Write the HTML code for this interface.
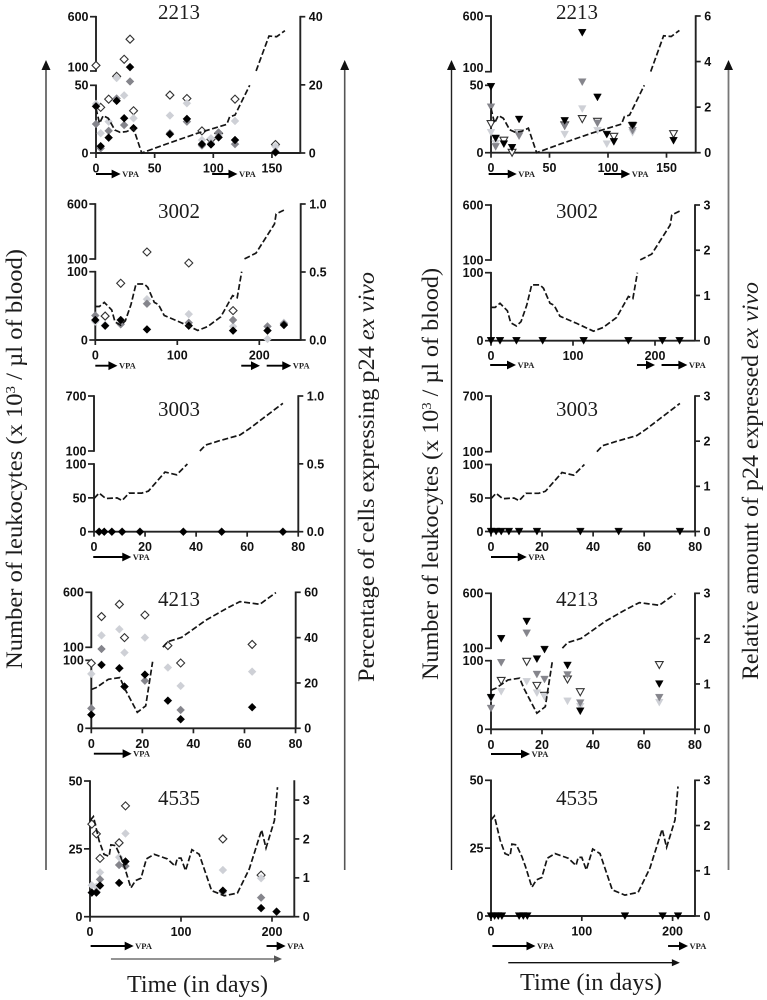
<!DOCTYPE html>
<html lang="en">
<head>
<meta charset="utf-8">
<title>Leukocytes and p24 expression over time</title>
<style>
html,body{margin:0;padding:0;background:#fff;width:767px;height:1000px;overflow:hidden}
svg{display:block;filter:blur(.3px)}
.serif{font-family:"Liberation Serif",serif;fill:#1c1c1c}
</style>
</head>
<body>
<svg id="figure" xmlns="http://www.w3.org/2000/svg" width="767" height="1000" viewBox="0 0 767 1000">
  <rect x="0" y="0" width="767" height="1000" fill="#fff"/>

  <g>
    <line x1="46" y1="70" x2="46" y2="870" stroke="#666" stroke-width="1.8"/><polygon points="46,60 41.5,70 50.5,70" fill="#111"/>
  </g>
  <g>
    <line x1="344.7" y1="70" x2="344.7" y2="870" stroke="#555" stroke-width="1.6"/><polygon points="344.7,60 340.2,70 349.2,70" fill="#111"/>
  </g>
  <g>
    <line x1="451.5" y1="70" x2="451.5" y2="870" stroke="#222" stroke-width="1.4"/><polygon points="451.5,60 447,70 456,70" fill="#111"/>
  </g>
  <g>
    <line x1="728.5" y1="70" x2="728.5" y2="870" stroke="#777" stroke-width="1.8"/><polygon points="728.5,60 724,70 733,70" fill="#111"/>
  </g>

  <text class="serif" font-size="23" transform="translate(22,669) rotate(-90)" textLength="420" lengthAdjust="spacingAndGlyphs">Number of leukocytes (x 10<tspan font-size="14" dy="-7">3</tspan><tspan dy="7"> /  µl of blood)</tspan></text>
  <text class="serif" font-size="23" transform="translate(374,682) rotate(-90)" textLength="410" lengthAdjust="spacingAndGlyphs">Percentage of cells expressing p24 <tspan font-style="italic">ex vivo</tspan></text>
  <text class="serif" font-size="23" transform="translate(438,680) rotate(-90)" textLength="412" lengthAdjust="spacingAndGlyphs">Number of leukocytes (x 10<tspan font-size="14" dy="-7">3</tspan><tspan dy="7"> / µl of blood)</tspan></text>
  <text class="serif" font-size="23" transform="translate(758,680) rotate(-90)" textLength="398" lengthAdjust="spacingAndGlyphs">Relative amount of p24 expressed <tspan font-style="italic">ex vivo</tspan></text>

  <text class="serif" font-size="24" x="127" y="992" textLength="141" lengthAdjust="spacingAndGlyphs">Time (in days)</text>
  <text class="serif" font-size="24" x="520" y="990" textLength="142" lengthAdjust="spacingAndGlyphs">Time (in days)</text>

  <text class="serif" font-size="21" text-anchor="middle" x="179" y="19">2213</text>
  <text class="serif" font-size="21" text-anchor="middle" x="577" y="19">2213</text>
  <text class="serif" font-size="21" text-anchor="middle" x="179" y="218">3002</text>
  <text class="serif" font-size="21" text-anchor="middle" x="577" y="218">3002</text>
  <text class="serif" font-size="21" text-anchor="middle" x="179" y="416">3003</text>
  <text class="serif" font-size="21" text-anchor="middle" x="577" y="416">3003</text>
  <text class="serif" font-size="21" text-anchor="middle" x="179" y="606">4213</text>
  <text class="serif" font-size="21" text-anchor="middle" x="577" y="606">4213</text>
  <text class="serif" font-size="21" text-anchor="middle" x="179" y="805">4535</text>
  <text class="serif" font-size="21" text-anchor="middle" x="577" y="805">4535</text>
</svg>

<script>
// ---------- Leukocyte counts (dashed line, left axis), shared by both columns ----------
const days2213 = [0,3,6.2,10.5,16,20.5,26,32,39,60,86,111.5,114,118.5,131,136.5,147.5,154,161];
const leuko2213 = [33,21.9,27.6,25.6,17,15.3,15.8,18.2,0,6.65,14.5,21.2,26.8,28,50,101,422,416,471];
const days3002 = [0,5,11,20,24,31,36.6,43.5,49.6,59.8,64,72,77,84,104.5,125,137,153,167.5,173,178.5,182,196,218.5,220.5,231];
const leuko3002 = [49,49,55,44,26.5,21.6,28,52,82,82,77,55,52,36,25.5,14,19.6,34,65,62,100,100.5,154,418,509,548];
const days3003 = [0,2,4.6,9,11,13.7,18.7,21.3,27.8,32.4,36.6,41.5,43.7,49.3,57.2,61,74];
const leuko3003 = [49,57,49,50,46,57,57,60,88,84,100,100.5,165,213,275,347,620];
const days4213 = [0,2,6.7,11.2,13,18,21.3,24,28,30,35.4,45,53,58.2,66,72.3];
const leuko4213 = [57,60,72,74.5,59,23.5,33,98,101,151,191,348,454,515,491,597];
const days4535 = [0,3.7,10,15.4,21,23,28,34,38,45,50,56,62,70.5,85,93.6,96,100,105,112,120,133.6,147.5,162,175,188.6,193.4,202.6,206];
const leuko4535 = [35.4,36.9,28,23,22.2,26.5,26.2,21.9,18.2,10.6,13.3,14.2,21.3,23,21.3,18.6,21.6,21.6,17,24.7,23,9.6,7.7,8.7,17.6,32,25.3,35.4,47.7];

// ---------- Percentage of p24-expressing cells, [day, value] (left column diamonds) ----------
const pct2213Open = [[0,25.7],[4,13.4],[10.8,15.8],[17.6,22.5],[24,27.5],[29,33.4],[32,12.4],[63,17],[77.5,16],[90.3,6.5],[98,4],[104.5,5.8],[118.5,15.8],[153,2.5]];
const pct2213Light = [[0,14.4],[4,5.8],[10.8,9.2],[17.6,22],[24,16.9],[32,10.2],[63,11],[77.5,14.6],[90.3,3.8],[98,4.3],[104.5,5.3],[118.5,9.4],[153,1.9]];
const pct2213Gray = [[0,8.5],[4,1.4],[10.8,6.5],[17.6,16],[24,8.2],[29,21],[63,5.8],[77.5,9.2],[90.3,2.2],[98,2.8],[104.5,6],[118.5,2.6],[153,0.4]];
const pct2213Black = [[0,13.7],[4,2],[10.8,4.5],[17.6,15.3],[24,10.2],[29,25.2],[32,7.3],[63,5.5],[77.5,10],[90.3,2.6],[98,2.5],[104.5,4.6],[118.5,3.8],[153,0.2]];

const pct3002Open = [[12,0.176],[31,0.417],[63,0.647],[114,0.566],[168,0.216]];
const pct3002Light = [[0,0.135],[12,0.11],[31,0.12],[63,0.3],[114,0.19],[168,0.1],[210,0.007],[230,0.127]];
const pct3002Gray = [[0,0.18],[31,0.115],[63,0.267],[114,0.127],[168,0.147],[210,0.1],[230,0.12]];
const pct3002Black = [[0,0.147],[12,0.105],[31,0.147],[63,0.078],[114,0.105],[168,0.069],[210,0.069],[230,0.11]];

const pct3003Black = [[2,0],[4,0],[7,0],[11,0],[18,0],[35,0],[50,0],[74,0]];

const pct4213Open = [[0,28.7],[4,49.3],[11,54.7],[13,40],[21,50],[30,36.5],[35,28.8],[63,37]];
const pct4213Light = [[0,24],[4,41],[11,43.7],[13,33.4],[21,40],[30,26.8],[35,18.7],[63,25]];
const pct4213Gray = [[0,8.8],[4,35],[11,26.5],[13,18.4],[21,21],[35,8.1]];
const pct4213Black = [[0,6],[4,28],[11,26.5],[13,18.4],[21,23.7],[30,12.2],[35,4],[63,9.3]];

const pct4535Open = [[2,2.38],[7,2.13],[11,1.5],[32,1.9],[39,2.85],[146,2],[188,1.07]];
const pct4535Light = [[2,0.81],[7,0.77],[11,1.14],[32,1.53],[39,2.14],[146,1.2],[188,0.99]];
const pct4535Gray = [[2,0.62],[7,0.64],[11,0.96],[32,1.33],[39,1.3],[146,0.64],[188,0.49]];
const pct4535Black = [[2,0.62],[7,0.62],[11,0.8],[32,0.87],[39,1.42],[146,0.67],[188,0.22],[205,0.13]];

// ---------- Relative amount of p24, [day, value] (right column triangles) ----------
const amt2213Open = [[0,1.26],[11,0.53],[18,0],[24,0.85],[63,1.2],[78,1.48],[91,1.36],[105,0.7],[121,1.17],[156,0.82]];
const amt2213Light = [[0,0.88],[4,0.4],[24,0.85],[63,0.8],[78,1.92],[91,0.97],[99,0.38],[121,0.88]];
const amt2213Gray = [[0,2],[4,0.26],[24,0.73],[63,1.17],[78,3.1],[91,1.29],[121,0.97]];
const amt2213Black = [[0,2.9],[4,0.63],[11,0.38],[18,0.22],[24,1.46],[63,1.4],[78,5.27],[91,2.43],[99,0.8],[105,0.48],[121,1.2],[156,0.53]];

const amt3002Black = [[0,0],[11,0],[31,0],[63,0],[113,0],[167.5,0],[209,0],[230,0]];
const amt3003Black = [[0,0],[2,0],[4,0],[7,0],[11,0],[18,0],[35,0],[50,0],[74,0]];

const amt4213Open = [[4,1.07],[14,1.49],[18,0.96],[21,0.74],[30,1.1],[35,0.82],[66,1.42]];
const amt4213Light = [[0,0.68],[4,0.83],[14,1.05],[18,0.8],[21,0.72],[30,0.62],[35,0.5],[66,0.59]];
const amt4213Gray = [[0,0.46],[4,1.47],[14,2.12],[18,1.21],[21,1.1],[30,1.2],[35,0.58],[66,0.7]];
const amt4213Black = [[0,0.7],[4,2],[14,2.38],[18,1.55],[21,1.76],[30,1.41],[35,0.4],[66,1]];

const amt4535Black = [[0,0],[4,0],[8,0],[12,0],[31,0],[35.6,0],[40,0],[147.5,0],[189,0],[206,0]];

// ---------- Tick labels ----------
const xTicks50 = [0,50,100,150];
const xTicks100 = [0,100,200];
const xTicks20 = [0,20,40,60,80];
const rightTicks40 = ['0','20','40'];
const rightTicks6 = ['0','2','4','6'];
const rightTicksUnit = ['0.0','0.5','1.0'];
const rightTicks3 = ['0','1','2','3'];
const rightTicks60 = ['0','20','40','60'];

// ---------- VPA treatment periods in days [start, end, labelled] ----------
const vpa2213Left = [[0,21,1],[99,120.6,1]];
const vpa2213Right = [[-2,22,1],[96.6,119,1]];
const vpa3002Left = [[0,27,1],[178,200.8,0],[209,239,1]];
const vpa3002Right = [[-1,30.5,1],[178,200,0],[208,239.5,1]];
const vpa3003Left = [[-0.3,14.6,1]];
const vpa3003Right = [[0,14,1]];
const vpa4213Left = [[1,15.8,1]];
const vpa4213Right = [[0,15.3,1]];
const vpa4535Left = [[0.7,48,1],[194,215,1]];
const vpa4535Right = [[1.5,49,1],[195,217,1]];
const longTherapy4535Left = [23,211];
const longTherapy4535Right = [19,208];

const panels = [
 {id:'2213-left',days:days2213,line:leuko2213,series:[pct2213Open,pct2213Light,pct2213Gray,pct2213Black],shape:'diamond',xL:96,xR:300.3,y0:153,yLow:85.3,yUp:71,yTop:16.7,xs:1.173,xTicks:xTicks50,low:[0,50],lowMax:50,up:[100,600],upMax:600,up100Dy:-4,rTicks:rightTicks40,rVals:[0,20,40],rMax:40,vpa:vpa2213Left,vpaY:174},
 {id:'2213-right',days:days2213,line:leuko2213,series:[amt2213Open,amt2213Light,amt2213Gray,amt2213Black],shape:'triangle',xL:491,xR:695.7,y0:152.7,yLow:85.3,yUp:71.7,yTop:16,xs:1.17,xTicks:xTicks50,low:[0,50],lowMax:50,up:[100,600],upMax:600,up100Dy:-4,rTicks:rightTicks6,rVals:[0,2,4,6],rMax:6,vpa:vpa2213Right,vpaY:174},
 {id:'3002-left',days:days3002,line:leuko3002,series:[pct3002Open,pct3002Light,pct3002Gray,pct3002Black],shape:'diamond',xL:95.3,xR:300.7,y0:340,yLow:271.7,yUp:259,yTop:204,xs:0.82,xTicks:xTicks100,low:[0,100],lowMax:100,up:[100,600],upMax:600,up100Dy:0,rTicks:rightTicksUnit,rVals:[0,0.5,1],rMax:1,vpa:vpa3002Left,vpaY:365.7},
 {id:'3002-right',days:days3002,line:leuko3002,series:[[],[],[],amt3002Black],shape:'triangle',xL:491,xR:695,y0:340.7,yLow:272.7,yUp:260,yTop:205,xs:0.82,xTicks:xTicks100,low:[0,100],lowMax:100,up:[100,600],upMax:600,up100Dy:0,rTicks:rightTicks3,rVals:[0,1,2,3],rMax:3,vpa:vpa3002Right,vpaY:365},
 {id:'3003-left',days:days3003,line:leuko3003,series:[[],[],[],pct3003Black],shape:'diamond',xL:94,xR:298.3,y0:531.7,yLow:464,yUp:451,yTop:396,xs:2.553,xTicks:xTicks20,low:[0,50,100],lowMax:100,up:[100,700],upMax:700,up100Dy:0,rTicks:rightTicksUnit,rVals:[0,0.5,1],rMax:1,vpa:vpa3003Left,vpaY:557},
 {id:'3003-right',days:days3003,line:leuko3003,series:[[],[],[],amt3003Black],shape:'triangle',xL:491,xR:695,y0:531.5,yLow:464.5,yUp:451.7,yTop:396,xs:2.553,xTicks:xTicks20,low:[0,50,100],lowMax:100,up:[100,700],upMax:700,up100Dy:0,rTicks:rightTicks3,rVals:[0,1,2,3],rMax:3,vpa:vpa3003Right,vpaY:557},
 {id:'4213-left',days:days4213,line:leuko4213,series:[pct4213Open,pct4213Light,pct4213Gray,pct4213Black],shape:'diamond',xL:91.3,xR:295.7,y0:728.3,yLow:660.3,yUp:647.3,yTop:592.3,xs:2.553,xTicks:xTicks20,low:[0,100],lowMax:100,up:[100,600],upMax:600,up100Dy:0,rTicks:rightTicks60,rVals:[0,20,40,60],rMax:60,vpa:vpa4213Left,vpaY:753.7},
 {id:'4213-right',days:days4213,line:leuko4213,series:[amt4213Open,amt4213Light,amt4213Gray,amt4213Black],shape:'triangle',xL:491,xR:695,y0:729.3,yLow:660.7,yUp:648.3,yTop:593.3,xs:2.55,xTicks:xTicks20,low:[0,100],lowMax:100,up:[100,600],upMax:600,up100Dy:0,rTicks:rightTicks3,rVals:[0,1,2,3],rMax:3,vpa:vpa4213Right,vpaY:754},
 {id:'4535-left',days:days4535,line:leuko4535,series:[pct4535Open,pct4535Light,pct4535Gray,pct4535Black],shape:'diamond',xL:90,xR:294.3,y0:916.7,yLow:781,yUp:null,yTop:781,xs:0.91,xTicks:xTicks100,low:[0,25,50],lowMax:50,up:[],upMax:null,up100Dy:0,rTicks:rightTicks3,rVals:[0,1,2,3],rMax:3.49,vpa:vpa4535Left,vpaY:946,longTherapy:longTherapy4535Left,longY:959,longColor:'#555'},
 {id:'4535-right',days:days4535,line:leuko4535,series:[[],[],[],amt4535Black],shape:'triangle',xL:491,xR:695,y0:916,yLow:780.3,yUp:null,yTop:780.3,xs:0.908,xTicks:xTicks100,low:[0,25,50],lowMax:50,up:[],upMax:null,up100Dy:0,rTicks:rightTicks3,rVals:[0,1,2,3],rMax:3,vpa:vpa4535Right,vpaY:946,longTherapy:longTherapy4535Right,longY:962.7,longColor:'#111'}
];

const seriesNames = ['open','light','gray','black'];
const seriesFill = ['#fff','#ced0d6','#85858c','#000'];
const seriesStroke = ['#333','#ced0d6','#85858c','#000'];
const NS = 'http://www.w3.org/2000/svg';
const AXIS = '#222';
const svg = document.getElementById('figure');

function make(parent, tag, attrs, text) {
  const node = document.createElementNS(NS, tag);
  for (const k in attrs) node.setAttribute(k, attrs[k]);
  if (text !== undefined) node.textContent = text;
  parent.appendChild(node);
  return node;
}
function xScale(p, d) { return p.xL + d * p.xs; }
function yLeft(p, v, upper) {
  if (upper) {
    return p.yUp - (v - p.up[0]) * (p.yUp - p.yTop) / (p.upMax - p.up[0]);
  }
  return p.y0 - v * (p.y0 - p.yLow) / p.lowMax;
}
function yRight(p, v) { return p.y0 - v * (p.y0 - p.yTop) / p.rMax; }

function tickLabel(g, x, y, anchor, label) {
  const t = make(g, 'text', {x: x, y: y, 'text-anchor': anchor, 'font-family': '"Liberation Sans",sans-serif', 'font-weight': 'bold', 'font-size': 12.5, fill: '#111'}, label);
  
  
}
function arrow(g, x1, x2, y, color, width, headLen, headHalf) {
  make(g, 'line', {x1: x1, y1: y, x2: x2 - headLen + 1, y2: y, stroke: color, 'stroke-width': width});
  make(g, 'polygon', {points: x2 + ',' + y + ' ' + (x2 - headLen) + ',' + (y - headHalf) + ' ' + (x2 - headLen) + ',' + (y + headHalf), fill: color});
}

panels.forEach(function (p) {
  const panel = make(svg, 'g', {});
  
  

  // Axes
  const xAxis = make(panel, 'g', {});
  
  
  make(xAxis, 'line', {x1: p.xL, y1: p.y0, x2: p.xR, y2: p.y0, stroke: AXIS, 'stroke-width': 1.9});
  p.xTicks.forEach(function (t) {
    const x = xScale(p, t);
    make(xAxis, 'line', {x1: x, y1: p.y0, x2: x, y2: p.y0 + 5, stroke: AXIS, 'stroke-width': 1.7});
    tickLabel(xAxis, x, p.y0 + 19.5, 'middle', String(t));
  });

  const leftAxis = make(panel, 'g', {});
  
  
  make(leftAxis, 'line', {x1: p.xL, y1: p.y0 + 0.8, x2: p.xL, y2: p.yLow - 0.8, stroke: AXIS, 'stroke-width': 1.9});
  p.low.forEach(function (t) {
    const y = yLeft(p, t, false);
    make(leftAxis, 'line', {x1: p.xL - 6, y1: y, x2: p.xL, y2: y, stroke: AXIS, 'stroke-width': 1.7});
    tickLabel(leftAxis, p.xL - 7.5, y + 4.4, 'end', String(t));
  });
  if (p.up.length) {
    make(leftAxis, 'line', {x1: p.xL, y1: p.yUp + 0.8, x2: p.xL, y2: p.yTop - 0.8, stroke: AXIS, 'stroke-width': 1.9});
    p.up.forEach(function (t, i) {
      const y = yLeft(p, t, true);
      make(leftAxis, 'line', {x1: p.xL - 6, y1: y, x2: p.xL, y2: y, stroke: AXIS, 'stroke-width': 1.7});
      tickLabel(leftAxis, p.xL - 7.5, y + 4.4 + (i === 0 ? p.up100Dy : 0), 'end', String(t));
    });
  }

  const rightAxis = make(panel, 'g', {});
  
  
  make(rightAxis, 'line', {x1: p.xR, y1: p.y0 + 0.8, x2: p.xR, y2: p.yTop - 0.8, stroke: AXIS, 'stroke-width': 1.9});
  p.rVals.forEach(function (v, i) {
    const y = yRight(p, v);
    make(rightAxis, 'line', {x1: p.xR, y1: y, x2: p.xR + 5, y2: y, stroke: AXIS, 'stroke-width': 1.7});
    tickLabel(rightAxis, p.xR + 8.5, y + 4.4, 'start', p.rTicks[i]);
  });

  // Markers
  p.series.forEach(function (points, si) {
    const group = make(panel, 'g', {fill: seriesFill[si], stroke: seriesStroke[si], 'stroke-width': si === 0 ? 1.1 : 0.4});
    
    
    points.forEach(function (pt) {
      const x = xScale(p, pt[0]);
      const y = yRight(p, pt[1]);
      const pts = p.shape === 'diamond'
        ? [x, y - 4, x + 4, y, x, y + 4, x - 4, y]
        : [x - 3.9, y - 3.4, x + 3.9, y - 3.4, x, y + 3.6];
      const mark = make(group, 'polygon', {points: pts.join(' ')});
      
      
    });
  });

  // Dashed leukocyte line, split where it crosses the axis break
  let d = '';
  let prevUpper = null;
  p.line.forEach(function (v, i) {
    const upper = p.up.length > 0 && v > p.lowMax;
    const x = xScale(p, p.days[i]);
    const y = yLeft(p, v, upper);
    d += (i === 0 || upper !== prevUpper ? 'M' : 'L') + x.toFixed(1) + ' ' + y.toFixed(1) + ' ';
    prevUpper = upper;
  });
  const path = make(panel, 'path', {d: d, fill: 'none', stroke: '#151515', 'stroke-width': 1.7, 'stroke-dasharray': '6 2.6'});
  
  

  // VPA arrows
  p.vpa.forEach(function (seg) {
    const g = make(panel, 'g', {});
    
    
    const x2 = xScale(p, seg[1]);
    arrow(g, xScale(p, seg[0]), x2, p.vpaY, '#000', 1.9, 9, 4.4);
    if (seg[2]) {
      const t = make(g, 'text', {x: x2 + 1.5, y: p.vpaY + 3, 'font-family': '"Liberation Serif",serif', 'font-weight': 'bold', 'font-size': 8.5, fill: '#222'}, 'VPA');
      
      
    }
  });
  if (p.longTherapy) {
    const g = make(panel, 'g', {});
    
    
    arrow(g, xScale(p, p.longTherapy[0]), xScale(p, p.longTherapy[1]), p.longY, p.longColor, 1.3, 8, 3.6);
  }
});
</script>
</body>
</html>
